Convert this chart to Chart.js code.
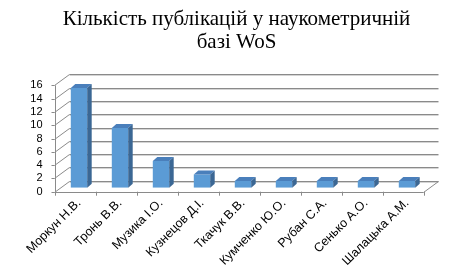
<!DOCTYPE html>
<html>
<head>
<meta charset="utf-8">
<script src="https://cdn.jsdelivr.net/npm/chart.js@4/dist/chart.umd.min.js"></script>
<style>
  body { margin: 0; background: #fff; }
  canvas { display: block; }
</style>
</head>
<body>
<canvas id="chart" width="473" height="279"></canvas>
<script>
const authors = ['Моркун Н.В.', 'Тронь В.В.', 'Музика І.О.', 'Кузнецов Д.І.', 'Ткачук В.В.',
    'Кумченко Ю.О.', 'Рубан С.А.', 'Сенько А.О.', 'Шалацька А.М.'];
const publications = [15, 9, 4, 2, 1, 1, 1, 1, 1];
const titleLines = ['Кількість публікацій у наукометричній', 'базі WoS'];

// offsets of the 3d box: back wall and bar plane relative to front plane
const wallDx = 15, wallDy = -11;
const barShiftX = 4, barShiftY = -4;
const barDepthX = 4.5, barDepthY = -4;

const fakeDepth = {
    id: 'fakeDepth',
    beforeDatasetsDraw(chart) {
        const ctx = chart.ctx;
        const area = chart.chartArea;
        const yScale = chart.scales.y;
        const y0 = yScale.getPixelForValue(0);
        ctx.save();
        ctx.lineWidth = 1;
        // back wall gridlines + left side wall
        yScale.ticks.forEach(t => {
            const y = Math.round(yScale.getPixelForValue(t.value));
            ctx.strokeStyle = '#d4d4d4';
            ctx.beginPath();
            ctx.moveTo(area.left + wallDx, y + wallDy + 1.5);
            ctx.lineTo(area.right + wallDx, y + wallDy + 1.5);
            ctx.stroke();
            ctx.strokeStyle = '#8a8a8a';
            ctx.beginPath();
            ctx.moveTo(area.left + wallDx, y + wallDy + 0.5);
            ctx.lineTo(area.right + wallDx, y + wallDy + 0.5);
            ctx.stroke();
            ctx.beginPath();
            ctx.moveTo(area.left, y + 0.5);
            ctx.lineTo(area.left + wallDx, y + wallDy + 0.5);
            ctx.stroke();
            // small tick on the value axis
            ctx.beginPath();
            ctx.moveTo(area.left - 3, y + 0.5);
            ctx.lineTo(area.left, y + 0.5);
            ctx.stroke();
        });
        // value axis
        const x = Math.round(area.left) + 0.5;
        ctx.beginPath();
        ctx.moveTo(x, yScale.getPixelForValue(16));
        ctx.lineTo(x, y0);
        ctx.stroke();
        // floor edges
        ctx.beginPath();
        ctx.moveTo(area.left, Math.round(y0) + 0.5);
        ctx.lineTo(area.right, Math.round(y0) + 0.5);
        ctx.lineTo(area.right + wallDx, Math.round(y0) + wallDy + 0.5);
        ctx.stroke();
        // category tick marks
        const step = (area.right - area.left) / authors.length;
        for (let i = 0; i <= authors.length; i++) {
            const tx = Math.round(area.left + i * step) + 0.5;
            ctx.beginPath();
            ctx.moveTo(tx, y0);
            ctx.lineTo(tx, y0 + 4);
            ctx.stroke();
        }
        ctx.restore();
        ctx.save();
        ctx.translate(barShiftX, barShiftY);
    },
    afterDatasetsDraw(chart) {
        const ctx = chart.ctx;
        chart.getDatasetMeta(0).data.forEach(bar => {
            const x1 = bar.x - bar.width / 2;
            const x2 = bar.x + bar.width / 2;
            const yt = bar.y;
            const yb = bar.base;
            ctx.fillStyle = '#4a7fbb';
            ctx.beginPath();
            ctx.moveTo(x1, yt);
            ctx.lineTo(x2, yt);
            ctx.lineTo(x2 + barDepthX, yt + barDepthY);
            ctx.lineTo(x1 + barDepthX, yt + barDepthY);
            ctx.closePath();
            ctx.fill();
            ctx.fillStyle = '#3b6794';
            ctx.beginPath();
            ctx.moveTo(x2, yt);
            ctx.lineTo(x2 + barDepthX, yt + barDepthY);
            ctx.lineTo(x2 + barDepthX, yb + barDepthY);
            ctx.lineTo(x2, yb);
            ctx.closePath();
            ctx.fill();
        });
        ctx.restore();
    }
};

new Chart(document.getElementById('chart'), {
    type: 'bar',
    data: {
        labels: authors,
        datasets: [{
            data: publications,
            backgroundColor: '#5b9bd5',
            borderWidth: 0,
            barPercentage: 0.4,
            categoryPercentage: 1
        }]
    },
    options: {
        responsive: false,
        animation: false,
        layout: { padding: 0 },
        plugins: {
            legend: { display: false },
            tooltip: { enabled: false },
            title: {
                display: true,
                text: titleLines,
                color: '#000',
                font: { family: '"Liberation Serif", "Times New Roman", serif', size: 21, weight: 'normal', lineHeight: 1.08 },
                padding: { top: 8, bottom: 32 }
            }
        },
        scales: {
            y: {
                min: 0,
                max: 16,
                ticks: {
                    stepSize: 2,
                    autoSkip: false,
                    color: '#000',
                    padding: 12,
                    font: { family: '"Liberation Sans", Arial, sans-serif', size: 11 }
                },
                grid: { display: false, drawTicks: false },
                border: { display: false },
                afterFit(scale) { scale.width = 54.5; }
            },
            // empty axis that only keeps the right margin
            yRight: {
                position: 'right',
                ticks: { display: false },
                grid: { display: false, drawTicks: false },
                border: { display: false },
                afterFit(scale) { scale.width = 49.5; }
            },
            x: {
                ticks: {
                    color: '#000',
                    minRotation: 45,
                    maxRotation: 45,
                    autoSkip: false,
                    padding: 4,
                    labelOffset: 4,
                    font: { family: '"Liberation Sans", Arial, sans-serif', size: 12.5 }
                },
                grid: { display: false, drawTicks: false },
                border: { display: false },
                afterFit(scale) { scale.height = 87.3; }
            }
        }
    },
    plugins: [fakeDepth]
});
</script>
</body>
</html>
